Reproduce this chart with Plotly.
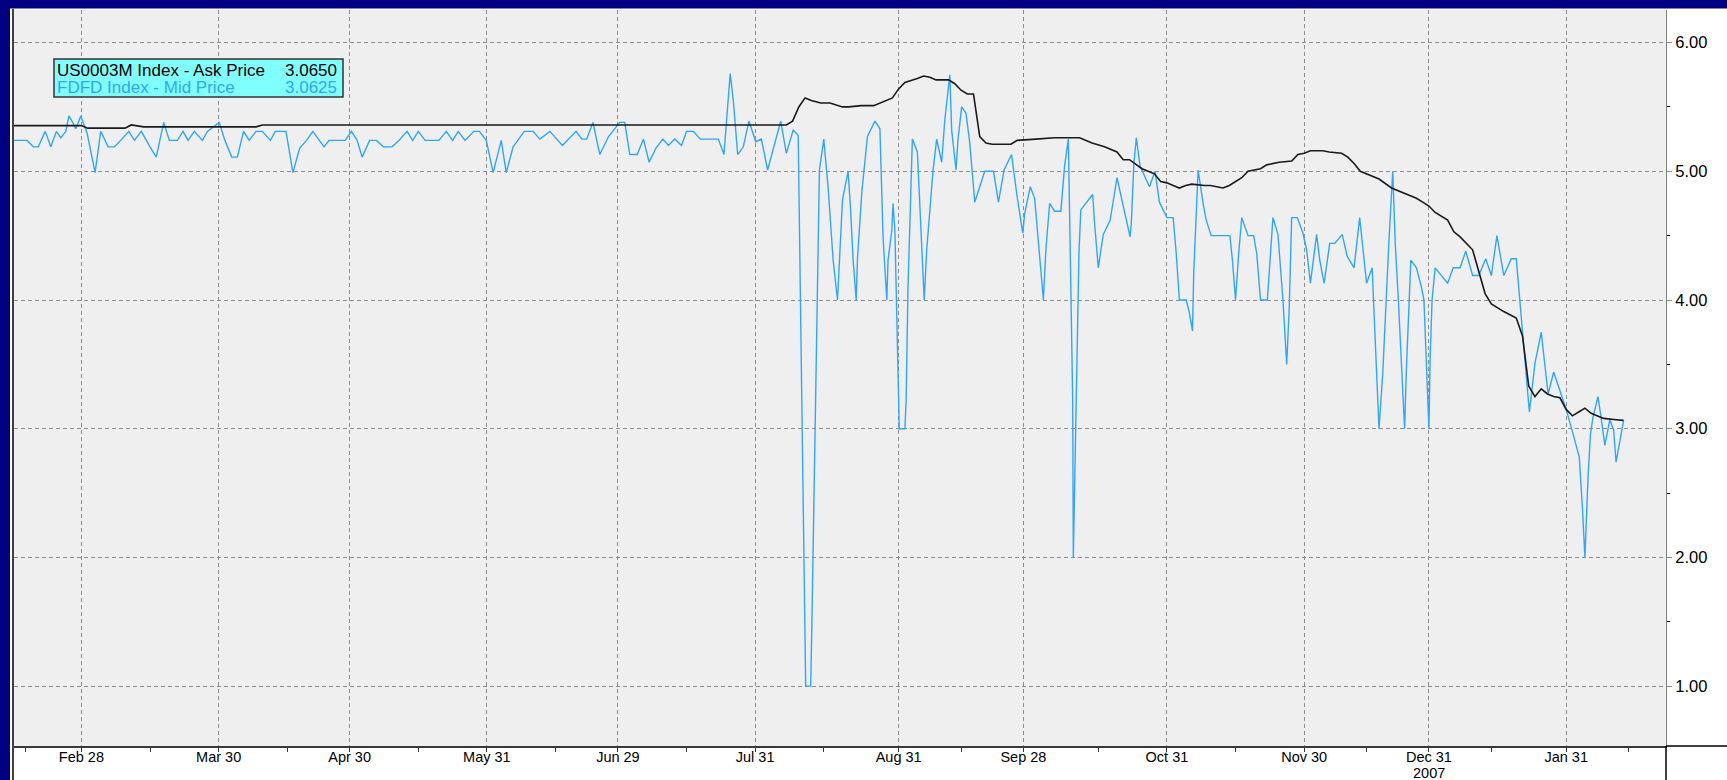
import plotly.graph_objects as go

# ---------------- data (x = trading-day number, 0 = Feb 28) ----------------
TICK_DAYS = [0, 22, 43, 65, 86, 108, 131, 151, 174, 196, 216, 238]
TICK_LABELS = ["Feb 28", "Mar 30", "Apr 30", "May 31", "Jun 29", "Jul 31",
               "Aug 31", "Sep 28", "Oct 31", "Nov 30", "Dec 31", "Jan 31"]
YEAR_DAY = 216
YEAR_LABEL = "2007"
MINOR_TICK_DAYS = [-9, 11, 33, 54, 76, 97, 119, 141, 163, 185, 206, 226, 248]
Y_TICKS = [1, 2, 3, 4, 5, 6]

US0003M_NAME = "US0003M Index - Ask Price"
FDFD_NAME = "FDFD Index - Mid Price"
US0003M_LAST = "3.0650"
FDFD_LAST = "3.0625"

US0003M_ASK = [
    (-10.8, 5.355), (0, 5.355), (1, 5.335), (7, 5.335), (8, 5.36), (10, 5.345),
    (28, 5.345), (29, 5.36), (113, 5.36), (114, 5.39), (115, 5.50), (116, 5.57),
    (117, 5.55), (118.5, 5.53), (120, 5.53), (122, 5.50), (123, 5.50), (125, 5.51),
    (127, 5.51), (128, 5.53), (130, 5.57), (131, 5.64), (132, 5.69), (134, 5.72),
    (135, 5.74), (136, 5.73), (137, 5.71), (139, 5.71), (140, 5.68), (141, 5.63),
    (142, 5.60), (143, 5.60), (144, 5.27), (145, 5.22), (146, 5.21), (149, 5.21),
    (150, 5.24), (153, 5.25), (156, 5.26), (158, 5.26), (160, 5.26), (162, 5.22),
    (164, 5.19), (166, 5.15), (167, 5.09), (168, 5.09), (170, 5.02), (171, 5.00),
    (172, 4.98), (173, 4.92), (174, 4.91), (175, 4.89), (176, 4.87), (177, 4.89),
    (178, 4.90), (180, 4.89), (181, 4.89), (183, 4.87), (184, 4.89), (186, 4.95),
    (187, 5.00), (189, 5.02), (190, 5.05), (192, 5.07), (194, 5.08), (195, 5.13),
    (196, 5.14), (197, 5.16), (199, 5.16), (200, 5.15), (202, 5.14), (203, 5.11),
    (204, 5.06), (205, 5.00), (206, 4.98), (208, 4.94), (210, 4.87), (212, 4.83),
    (214, 4.79), (215, 4.76), (216, 4.73), (217, 4.68), (219, 4.62), (220, 4.53),
    (221, 4.49), (223, 4.39), (224, 4.21), (225, 4.05), (226, 3.97), (227, 3.94),
    (228, 3.91), (230, 3.86), (231, 3.72), (232, 3.33), (233, 3.25), (234, 3.31),
    (235, 3.27), (236, 3.25), (237, 3.24), (238, 3.15), (239, 3.10), (240, 3.13),
    (241, 3.16), (242, 3.12), (243, 3.10), (244, 3.08), (246, 3.07), (247.2, 3.065),
]

FDFD_MID = [
    (-10.8, 5.24), (-8.7, 5.24), (-7.7, 5.19), (-6.9, 5.19), (-5.8, 5.31), (-4.9, 5.19),
    (-4.0, 5.31), (-3.3, 5.26), (-2.5, 5.31), (-2.0, 5.43), (-1.4, 5.38), (-0.9, 5.33),
    (-0.1, 5.43), (0.9, 5.30), (2.2, 4.99), (3.1, 5.31), (4.3, 5.19), (5.3, 5.19),
    (6.3, 5.24), (7.6, 5.31), (8.5, 5.24), (9.6, 5.31), (11.0, 5.19), (12.0, 5.11),
    (13.2, 5.38), (14.1, 5.24), (15.4, 5.24), (16.3, 5.31), (17.1, 5.24), (18.1, 5.31),
    (19.4, 5.24), (20.2, 5.31), (22.1, 5.38), (23.0, 5.24), (24.1, 5.11), (25.0, 5.11),
    (26.0, 5.31), (26.9, 5.24), (28.0, 5.31), (29.0, 5.31), (30.3, 5.24), (31.1, 5.31),
    (32.8, 5.31), (33.9, 4.99), (35.0, 5.18), (36.1, 5.24), (37.1, 5.31), (38.2, 5.24),
    (38.9, 5.19), (39.7, 5.24), (42.3, 5.24), (43.3, 5.31), (44.2, 5.24), (45.0, 5.11),
    (46.2, 5.24), (47.3, 5.24), (48.4, 5.19), (49.8, 5.19), (50.9, 5.24), (52.2, 5.31),
    (53.1, 5.24), (54.0, 5.31), (55.1, 5.24), (57.3, 5.24), (58.5, 5.31), (59.5, 5.24),
    (60.4, 5.31), (61.5, 5.24), (62.9, 5.31), (63.8, 5.31), (64.9, 5.24), (66.0, 4.99),
    (67.3, 5.24), (68.1, 4.99), (69.2, 5.19), (71.0, 5.31), (72.4, 5.31), (73.5, 5.25),
    (75.1, 5.31), (77.1, 5.20), (79.3, 5.31), (80.2, 5.25), (81.0, 5.25), (82.0, 5.38),
    (83.1, 5.13), (84.5, 5.27), (85.7, 5.34), (86.3, 5.38), (87.1, 5.38), (87.9, 5.13),
    (89.1, 5.13), (90.1, 5.25), (91.0, 5.07), (92.1, 5.18), (93.2, 5.25), (94.1, 5.20),
    (95.1, 5.25), (96.2, 5.20), (97.0, 5.31), (98.1, 5.31), (99.2, 5.25), (102.1, 5.25),
    (103.0, 5.13), (104.0, 5.76), (104.5, 5.55), (105.2, 5.13), (106.1, 5.19), (107.0, 5.39),
    (108.1, 5.23), (109.0, 5.25), (110.0, 5.01), (111.2, 5.24), (112.1, 5.39), (113.0, 5.14),
    (114.1, 5.32), (114.9, 5.28), (116.1, 1.00), (116.9, 1.00), (117.1, 1.50), (118.3, 5.01),
    (119.0, 5.25), (119.7, 4.87), (120.5, 4.31), (121.2, 4.00), (121.5, 4.29), (122.0, 4.78),
    (122.9, 5.00), (123.3, 4.70), (123.7, 4.31), (124.2, 4.00), (124.4, 4.32), (125.1, 4.84),
    (126.0, 5.27), (127.2, 5.39), (128.0, 5.33), (128.5, 4.49), (129.1, 4.00), (129.3, 4.31),
    (129.9, 4.54), (130.1, 4.75), (130.4, 4.54), (130.6, 4.05), (130.8, 3.66), (131.1, 3.00),
    (132.0, 3.00), (132.2, 3.22), (132.5, 4.10), (133.1, 5.01), (133.2, 5.25), (134.0, 5.15),
    (134.4, 4.70), (134.8, 4.31), (135.1, 4.00), (135.5, 4.39), (135.9, 4.65), (136.5, 5.00),
    (137.1, 5.25), (137.9, 5.07), (138.4, 5.40), (139.2, 5.75), (139.5, 5.32), (140.2, 5.01),
    (140.5, 5.24), (141.1, 5.50), (141.8, 5.45), (142.4, 5.22), (143.2, 4.76), (144.0, 4.88),
    (144.8, 5.00), (146.2, 5.00), (147.0, 4.76), (147.9, 5.01), (149.1, 5.13), (150.0, 4.80),
    (150.9, 4.52), (151.2, 4.67), (152.1, 4.88), (152.8, 4.79), (153.4, 4.47), (154.2, 4.00),
    (154.6, 4.39), (155.2, 4.75), (156.0, 4.69), (157.0, 4.69), (157.6, 5.04), (158.2, 5.25),
    (158.6, 4.10), (158.9, 3.22), (159.0, 2.00), (159.9, 4.36), (160.2, 4.70), (162.1, 4.82),
    (162.4, 4.60), (163.0, 4.25), (163.8, 4.51), (164.9, 4.62), (165.3, 4.74), (166.0, 4.95),
    (167.0, 4.73), (168.1, 4.49), (168.3, 4.60), (168.7, 5.06), (169.1, 5.26), (169.7, 5.04),
    (171.2, 4.88), (172.1, 5.00), (172.8, 4.76), (174.0, 4.64), (175.0, 4.64), (175.5, 4.36),
    (176.0, 4.00), (177.1, 4.00), (177.6, 3.90), (178.1, 3.76), (178.3, 4.21), (179.0, 5.01),
    (179.8, 4.75), (180.3, 4.62), (181.1, 4.50), (184.1, 4.50), (184.5, 4.31), (185.0, 4.00),
    (185.5, 4.36), (186.0, 4.64), (187.0, 4.50), (187.9, 4.50), (188.4, 4.36), (189.0, 4.00),
    (190.1, 4.00), (190.6, 4.36), (191.0, 4.64), (191.8, 4.51), (192.2, 4.24), (192.6, 4.00),
    (193.2, 3.50), (193.6, 3.93), (194.0, 4.64), (194.9, 4.64), (195.8, 4.52), (196.4, 4.39),
    (197.0, 4.13), (197.6, 4.36), (198.0, 4.51), (198.5, 4.31), (199.2, 4.13), (200.1, 4.44),
    (200.9, 4.44), (202.1, 4.51), (202.9, 4.34), (204.0, 4.25), (204.9, 4.64), (206.0, 4.13),
    (206.9, 4.25), (207.3, 3.79), (208.0, 3.00), (208.6, 3.43), (209.2, 4.10), (209.6, 4.47),
    (210.2, 5.00), (210.6, 4.44), (211.1, 4.00), (211.6, 3.51), (212.1, 3.00), (212.4, 3.48),
    (212.7, 3.82), (213.1, 4.31), (214.0, 4.25), (214.8, 4.10), (215.2, 4.00), (215.5, 3.66),
    (216.0, 3.00), (216.2, 3.56), (216.5, 4.00), (217.0, 4.25), (218.1, 4.18), (219.0, 4.13),
    (219.9, 4.25), (221.0, 4.25), (221.9, 4.38), (223.0, 4.19), (224.0, 4.19), (225.1, 4.32),
    (226.0, 4.19), (226.9, 4.50), (228.0, 4.19), (229.2, 4.32), (230.0, 4.32), (230.4, 4.10),
    (231.1, 3.74), (231.6, 3.43), (232.1, 3.13), (233.0, 3.51), (234.0, 3.75), (234.5, 3.53),
    (235.1, 3.27), (236.0, 3.44), (237.0, 3.29), (238.0, 3.15), (239.1, 2.96), (240.1, 2.78),
    (240.6, 2.39), (241.0, 2.00), (241.5, 2.62), (241.9, 2.96), (242.3, 3.09), (243.1, 3.25),
    (243.5, 3.12), (244.2, 2.87), (245.0, 3.07), (245.6, 2.99), (246.0, 2.74), (246.6, 2.91),
    (247.2, 3.0625),
]

# ---------------- style ----------------
NAVY = "#000080"
BLUE = "#2ea6ff"
BLACK = "#1a1a1a"
GRID = "#8c8c8c"
PLOT_BG = "#efefef"
FONT = "Liberation Sans, Arial, sans-serif"

W, H = 1727, 780
L, R, T, B = 14, 1666, 10, 746     # plot area in pixels


def fx(p):
    return (p - L) / (R - L)


def fy(p):
    return (B - p) / (B - T)


fig = go.Figure()
fig.add_trace(go.Scatter(
    x=[d for d, _ in FDFD_MID], y=[v for _, v in FDFD_MID],
    mode="lines", name=FDFD_NAME, line=dict(color=BLUE, width=1.4),
))
fig.add_trace(go.Scatter(
    x=[d for d, _ in US0003M_ASK], y=[v for _, v in US0003M_ASK],
    mode="lines", name=US0003M_NAME, line=dict(color=BLACK, width=1.6),
))

fig.update_layout(
    template="none",
    width=W, height=H, autosize=False,
    margin=dict(l=L, r=W - R, t=T, b=H - B, pad=0),
    paper_bgcolor="white", plot_bgcolor=PLOT_BG,
    showlegend=False,
    font=dict(family=FONT, color="black"),
    xaxis=dict(
        automargin=False,
        range=[-10.8, 254], tickmode="array", tickvals=TICK_DAYS, ticktext=TICK_LABELS,
        showgrid=True, gridcolor=GRID, griddash="4px,3px", gridwidth=1,
        zeroline=False, showline=True, linecolor="#3a3a3a", linewidth=2,
        ticks="outside", ticklen=4, tickcolor="#3a3a3a", tickwidth=1,
        ticklabelstandoff=-7,
        tickfont=dict(size=14.5, family=FONT, color="black"),
        minor=dict(tickmode="array", tickvals=MINOR_TICK_DAYS, ticks="outside",
                   ticklen=4, tickcolor="#3a3a3a", showgrid=False),
        fixedrange=True,
    ),
    yaxis=dict(
        automargin=False,
        side="right", range=[0.535, 6.253], tickmode="array", tickvals=Y_TICKS,
        tickformat=".2f",
        showgrid=True, gridcolor=GRID, griddash="4px,3px", gridwidth=1,
        zeroline=False, showline=True, linecolor="#808080", linewidth=1,
        ticks="outside", ticklen=5, tickcolor=GRID, tickwidth=1,
        tickfont=dict(size=16.5, family=FONT, color="black"),
        minor=dict(dtick=0.5, ticks="outside", ticklen=3, tickcolor="black",
                   showgrid=False),
        fixedrange=True,
    ),
)

shapes = [
    # navy frame (top and left)
    dict(type="rect", xref="paper", yref="paper", x0=fx(0), x1=fx(W), y0=fy(8.5), y1=fy(0),
         fillcolor=NAVY, line=dict(width=0), layer="above"),
    dict(type="rect", xref="paper", yref="paper", x0=fx(0), x1=fx(10), y0=fy(H), y1=fy(0),
         fillcolor=NAVY, line=dict(width=0), layer="above"),
    # black left rule
    dict(type="line", xref="paper", yref="paper", x0=fx(13), x1=fx(13), y0=fy(H), y1=fy(9),
         line=dict(color="black", width=1.5), layer="above"),
    # bottom-right corner rules
    dict(type="line", xref="paper", yref="paper", x0=1, x1=1, y0=fy(H), y1=0,
         line=dict(color="black", width=1.5), layer="above"),
    dict(type="line", xref="paper", yref="paper", x0=1, x1=fx(W), y0=0, y1=0,
         line=dict(color="black", width=1.5), layer="above"),
    # legend box
    dict(type="rect", xref="paper", yref="paper", x0=fx(54), x1=fx(343), y0=fy(97), y1=fy(59),
         fillcolor="#80ffff", line=dict(color="#333333", width=1.5), layer="above"),
]
fig.update_layout(shapes=shapes)

legend_rows = [
    (US0003M_NAME, US0003M_LAST, "black", 70),
    (FDFD_NAME, FDFD_LAST, BLUE, 87),
]
for name, last, col, ypx in legend_rows:
    fig.add_annotation(xref="paper", yref="paper", x=fx(55), y=fy(ypx), text=name,
                       showarrow=False, xanchor="left", yanchor="middle",
                       font=dict(size=17, family=FONT, color=col))
    fig.add_annotation(xref="paper", yref="paper", x=fx(339), y=fy(ypx), text=last,
                       showarrow=False, xanchor="right", yanchor="middle",
                       font=dict(size=17, family=FONT, color=col))

# year marker under the Dec 31 tick label
fig.add_annotation(xref="x", yref="paper", x=YEAR_DAY, y=fy(773), text=YEAR_LABEL,
                   showarrow=False, xanchor="center", yanchor="middle",
                   borderpad=0, font=dict(size=14.5, family=FONT, color="black"))

fig.write_html(
    "out.html",
    config={"displayModeBar": False},
    post_script="document.body.style.margin='0px';document.body.style.overflow='hidden';",
)
